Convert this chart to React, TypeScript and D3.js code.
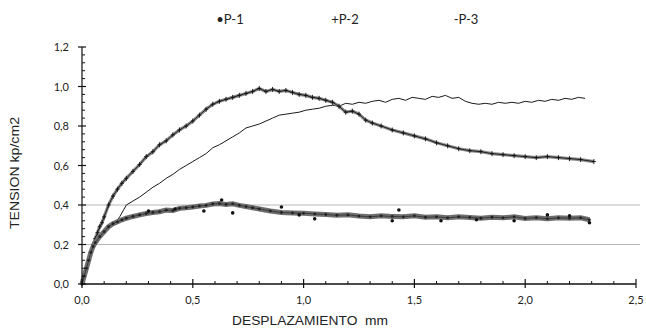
import React from "react";
import * as d3 from "d3";

const xTicks = [0, 0.5, 1.0, 1.5, 2.0, 2.5];
const yTicks = [0, 0.2, 0.4, 0.6, 0.8, 1.0, 1.2];
const gridValues = [0.2, 0.4];
const legendLabels = ["\u2022P-1", "+P-2", "-P-3"];

const p1: [number, number][] = [
  [0, 0], [0.01, 0.04], [0.02, 0.08], [0.03, 0.12], [0.04, 0.16], [0.05, 0.19], [0.06, 0.21],
  [0.08, 0.24], [0.1, 0.265], [0.12, 0.29], [0.14, 0.305], [0.16, 0.315], [0.18, 0.325], [0.2, 0.333],
  [0.23, 0.342], [0.26, 0.35], [0.29, 0.357], [0.32, 0.362], [0.35, 0.366], [0.38, 0.374], [0.41, 0.372],
  [0.44, 0.383], [0.47, 0.386], [0.5, 0.39], [0.53, 0.395], [0.56, 0.398], [0.59, 0.405], [0.62, 0.407],
  [0.65, 0.403], [0.68, 0.406], [0.71, 0.398], [0.74, 0.392], [0.77, 0.386], [0.8, 0.38], [0.85, 0.37],
  [0.9, 0.362], [0.95, 0.36], [1.0, 0.358], [1.05, 0.355], [1.1, 0.352], [1.15, 0.348], [1.2, 0.35],
  [1.25, 0.344], [1.3, 0.34], [1.35, 0.345], [1.4, 0.342], [1.45, 0.34], [1.5, 0.345], [1.55, 0.338],
  [1.6, 0.34], [1.65, 0.335], [1.7, 0.34], [1.75, 0.337], [1.8, 0.333], [1.85, 0.338], [1.9, 0.335],
  [1.95, 0.34], [2.0, 0.332], [2.05, 0.336], [2.1, 0.33], [2.15, 0.335], [2.2, 0.333], [2.25, 0.335],
  [2.29, 0.325],
];
const p1Outliers: [number, number][] = [
  [0.3, 0.37], [0.42, 0.38], [0.55, 0.37], [0.63, 0.425], [0.68, 0.36], [0.9, 0.39], [0.98, 0.35],
  [1.05, 0.33], [1.4, 0.32], [1.43, 0.375], [1.62, 0.32], [1.78, 0.325], [1.95, 0.32], [2.1, 0.35],
  [2.2, 0.345], [2.29, 0.31],
];

const p2: [number, number][] = [
  [0, 0], [0.01, 0.04], [0.02, 0.08], [0.03, 0.12], [0.04, 0.16], [0.05, 0.2], [0.06, 0.23],
  [0.07, 0.26], [0.08, 0.29], [0.09, 0.31], [0.1, 0.34], [0.12, 0.4], [0.14, 0.445], [0.16, 0.48],
  [0.18, 0.51], [0.2, 0.535], [0.23, 0.57], [0.26, 0.605], [0.29, 0.645], [0.32, 0.67], [0.35, 0.705],
  [0.38, 0.725], [0.41, 0.755], [0.44, 0.78], [0.47, 0.8], [0.5, 0.825], [0.53, 0.855], [0.56, 0.885],
  [0.59, 0.91], [0.62, 0.925], [0.65, 0.935], [0.68, 0.945], [0.71, 0.955], [0.74, 0.965], [0.77, 0.975],
  [0.8, 0.99], [0.83, 0.975], [0.86, 0.985], [0.89, 0.975], [0.92, 0.98], [0.95, 0.97], [0.98, 0.96],
  [1.01, 0.955], [1.04, 0.945], [1.07, 0.94], [1.1, 0.93], [1.13, 0.92], [1.16, 0.9], [1.19, 0.87],
  [1.22, 0.875], [1.25, 0.86], [1.28, 0.83], [1.31, 0.815], [1.35, 0.8], [1.4, 0.78], [1.45, 0.765],
  [1.5, 0.75], [1.55, 0.735], [1.6, 0.715], [1.65, 0.7], [1.7, 0.685], [1.75, 0.675], [1.8, 0.67],
  [1.85, 0.66], [1.9, 0.655], [1.95, 0.65], [2.0, 0.645], [2.05, 0.64], [2.1, 0.645], [2.15, 0.64],
  [2.2, 0.635], [2.25, 0.63], [2.31, 0.62],
];

const p3: [number, number][] = [
  [0, 0], [0.01, 0.04], [0.02, 0.08], [0.03, 0.12], [0.05, 0.18], [0.07, 0.22], [0.09, 0.25],
  [0.11, 0.27], [0.13, 0.29], [0.15, 0.31], [0.17, 0.34], [0.2, 0.4], [0.23, 0.42], [0.26, 0.44],
  [0.29, 0.465], [0.32, 0.49], [0.35, 0.51], [0.38, 0.535], [0.41, 0.555], [0.44, 0.58], [0.47, 0.6],
  [0.5, 0.62], [0.53, 0.64], [0.56, 0.66], [0.59, 0.69], [0.62, 0.705], [0.65, 0.725], [0.68, 0.745],
  [0.71, 0.765], [0.74, 0.79], [0.77, 0.8], [0.8, 0.81], [0.83, 0.825], [0.86, 0.84], [0.89, 0.855],
  [0.92, 0.86], [0.95, 0.865], [0.98, 0.87], [1.01, 0.88], [1.04, 0.885], [1.07, 0.89], [1.1, 0.9],
  [1.13, 0.905], [1.16, 0.9], [1.19, 0.915], [1.22, 0.91], [1.25, 0.92], [1.28, 0.915], [1.31, 0.925],
  [1.34, 0.93], [1.37, 0.92], [1.4, 0.935], [1.43, 0.94], [1.46, 0.93], [1.49, 0.945], [1.52, 0.94],
  [1.55, 0.935], [1.58, 0.95], [1.61, 0.945], [1.64, 0.955], [1.67, 0.94], [1.7, 0.945], [1.73, 0.925],
  [1.76, 0.915], [1.79, 0.91], [1.82, 0.915], [1.85, 0.91], [1.88, 0.92], [1.91, 0.915], [1.94, 0.92],
  [1.97, 0.915], [2.0, 0.925], [2.03, 0.92], [2.06, 0.93], [2.09, 0.925], [2.12, 0.935], [2.15, 0.93],
  [2.18, 0.94], [2.21, 0.935], [2.24, 0.945], [2.27, 0.94],
];

const W = 646;
const H = 331;
const left = 82;
const right = 636;
const top = 47;
const bottom = 284;

export default function App() {
  const x = d3.scaleLinear().domain([0, 2.5]).range([left, right]);
  const y = d3.scaleLinear().domain([0, 1.2]).range([bottom, top]);
  const line = d3
    .line<[number, number]>()
    .x((d) => x(d[0]))
    .y((d) => y(d[1]));

  const xMinor = d3.range(0, 2.5001, 0.1).filter((v) => Math.abs(v / 0.5 - Math.round(v / 0.5)) > 1e-6);
  const yMinor = d3.range(0, 1.2001, 0.04).filter((v) => Math.abs(v / 0.2 - Math.round(v / 0.2)) > 1e-6);
  const tickFont = "Lato, 'Open Sans', sans-serif";
  const titleFont = "'Liberation Sans', Arial, sans-serif";
  const legendX = [230, 345, 466];

  return (
    <svg width={W} height={H} style={{ position: "absolute", left: 0, top: 0, background: "#fff" }}>
      <rect x={0} y={0} width={W} height={H} fill="#fff" />
      {gridValues.map((v) => (
        <line key={"g" + v} x1={left} x2={right + 4} y1={y(v)} y2={y(v)} stroke="#b8b8b8" strokeWidth={1} />
      ))}

      <path d={line(p3) || ""} fill="none" stroke="#1a1a1a" strokeWidth={1} />

      <path d={line(p2) || ""} fill="none" stroke="#8a8a8a" strokeWidth={3.2} />
      <path d={line(p2) || ""} fill="none" stroke="#222" strokeWidth={1} />
      {p2.map((d, i) => (
        <g key={"p2" + i} stroke="#111" strokeWidth={0.9}>
          <line x1={x(d[0]) - 2} x2={x(d[0]) + 2} y1={y(d[1])} y2={y(d[1])} />
          <line x1={x(d[0])} x2={x(d[0])} y1={y(d[1]) - 2.5} y2={y(d[1]) + 2.5} />
        </g>
      ))}

      <path d={line(p1) || ""} fill="none" stroke="#6e6e6e" strokeWidth={5} />
      <path d={line(p1) || ""} fill="none" stroke="#3a3a3a" strokeWidth={1} />
      {p1.map((d, i) => (
        <circle key={"p1" + i} cx={x(d[0])} cy={y(d[1])} r={1.4} fill="#222" />
      ))}
      {p1Outliers.map((d, i) => (
        <circle key={"p1o" + i} cx={x(d[0])} cy={y(d[1])} r={1.8} fill="#111" />
      ))}

      <line x1={left} x2={left} y1={bottom} y2={top} stroke="#111" strokeWidth={1.2} />
      <line x1={left} x2={right} y1={bottom} y2={bottom} stroke="#111" strokeWidth={1.5} />
      {yTicks.map((v) => (
        <g key={"yt" + v}>
          <line x1={left - 4} x2={left + 4} y1={y(v)} y2={y(v)} stroke="#111" strokeWidth={1.2} />
          <text x={69} y={y(v) + 4} textAnchor="end" fontFamily={tickFont} fontSize={11} fill="#222">
            {d3.format(".1f")(v).replace(".", ",")}
          </text>
        </g>
      ))}
      {yMinor.map((v) => (
        <line key={"ym" + v} x1={left} x2={left + 3} y1={y(v)} y2={y(v)} stroke="#111" strokeWidth={1} />
      ))}
      {xTicks.map((v) => (
        <g key={"xt" + v}>
          <line x1={x(v)} x2={x(v)} y1={bottom - 5} y2={bottom + 4} stroke="#111" strokeWidth={1.2} />
          <text x={x(v)} y={bottom + 20} textAnchor="middle" fontFamily={tickFont} fontSize={11} fill="#222">
            {d3.format(".1f")(v).replace(".", ",")}
          </text>
        </g>
      ))}
      {xMinor.map((v) => (
        <line key={"xm" + v} x1={x(v)} x2={x(v)} y1={bottom} y2={bottom - 3} stroke="#111" strokeWidth={1} />
      ))}

      <text
        x={310}
        y={325}
        textAnchor="middle"
        fontFamily={titleFont}
        fontSize={12.5}
        fill="#222"
        textLength={156}
        lengthAdjust="spacingAndGlyphs"
      >
        DESPLAZAMIENTO{"\u00a0\u00a0"}mm
      </text>
      <text
        transform={`translate(19, 173) rotate(-90)`}
        textAnchor="middle"
        fontFamily={titleFont}
        fontSize={12.5}
        fill="#222"
        textLength={112}
        lengthAdjust="spacingAndGlyphs"
      >
        TENSION kp/cm2
      </text>

      {legendLabels.map((t, i) => (
        <text key={"lg" + i} x={legendX[i]} y={24} textAnchor="middle" fontFamily={tickFont} fontSize={13} fill="#222">
          {t}
        </text>
      ))}
    </svg>
  );
}
